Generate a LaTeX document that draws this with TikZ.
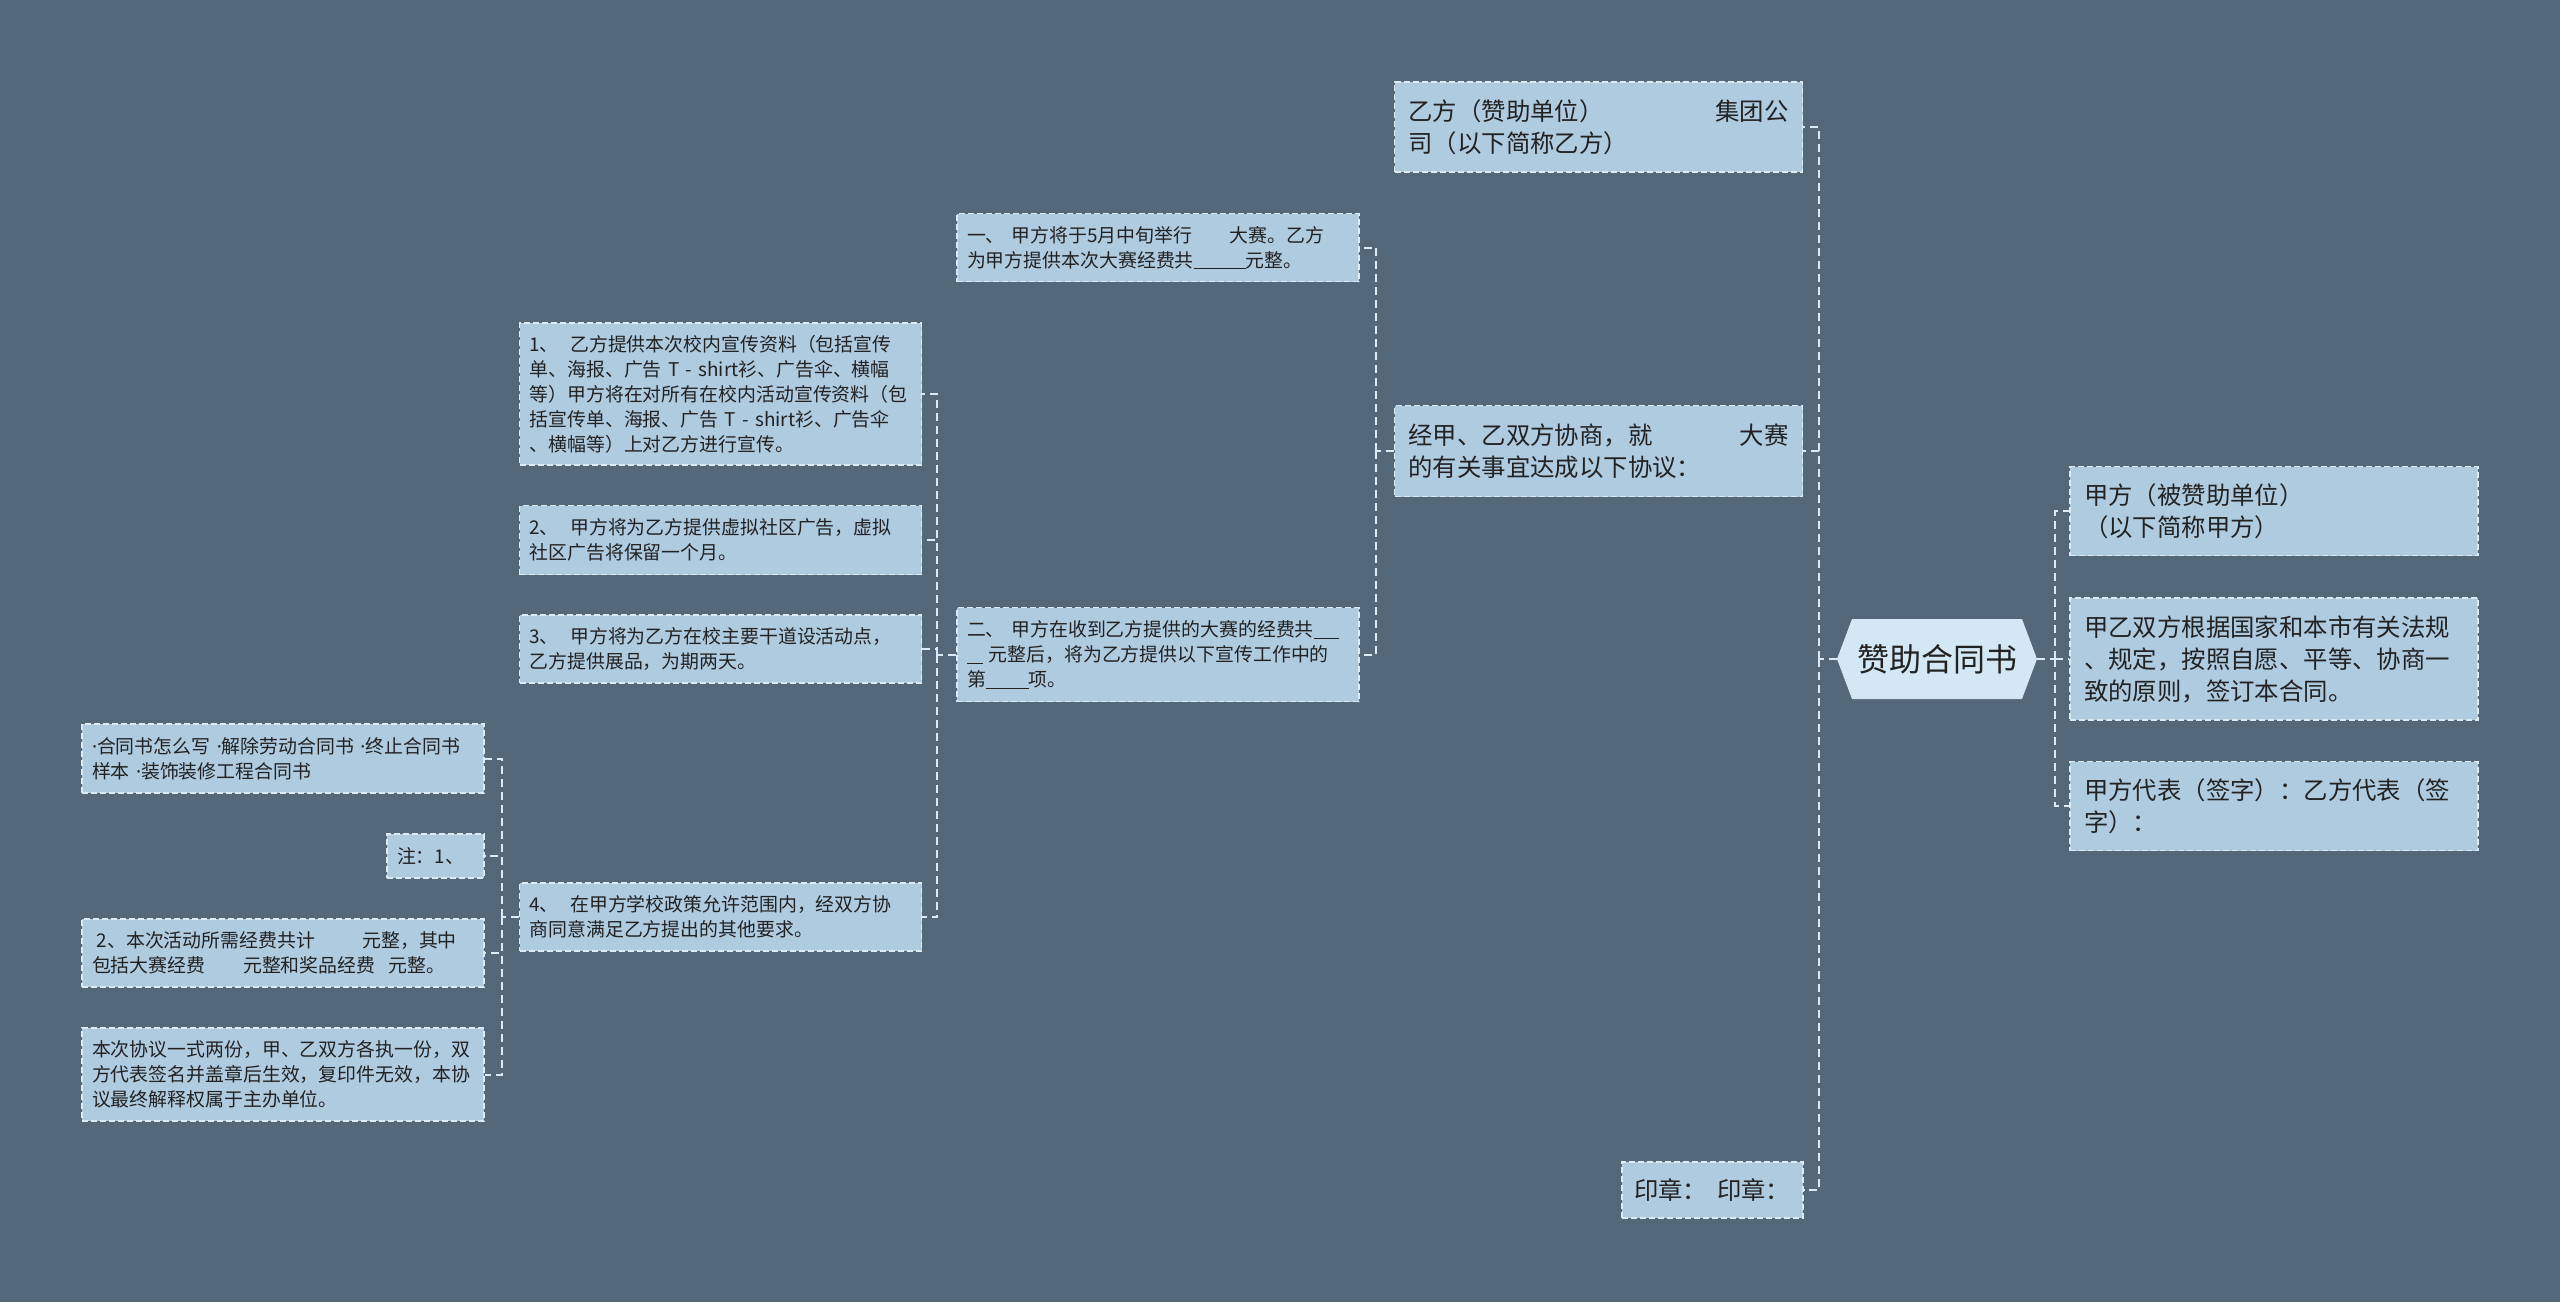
\documentclass[tikz,border=0pt]{standalone}
\usepackage{fontspec}
\setmainfont{Noto Sans CJK SC}
\newfontfamily\latinf{Noto Sans}
\definecolor{bg}{HTML}{536878}
\definecolor{boxfill}{HTML}{AFCBE0}
\definecolor{rootfill}{HTML}{D3E8F4}
\definecolor{linec}{HTML}{DCEAF4}
\definecolor{txt}{HTML}{222222}
\newcommand\myblank[1]{\rule[-1pt]{#1}{0.45pt}}
\newcommand\mdot{{\latinf ·}}
\begin{document}
\begin{tikzpicture}[x=0.5pt,y=-0.5pt,
  box/.style={draw=linec, dash pattern=on 3pt off 1.5pt, line width=0.6pt, fill=boxfill, text=txt, align=left, inner ysep=0pt, anchor=center},
  big/.style={box, font=\fontsize{12.2pt}{16pt}\selectfont, inner xsep=7pt, text width=190pt},
  small/.style={box, font=\fontsize{9.45pt}{12.5pt}\selectfont, inner xsep=5pt, text width=191pt},
  conn/.style={draw=linec, line width=1pt, dash pattern=on 4pt off 2.5pt},
]
\useasboundingbox (0,0) rectangle (2560,1302);
\fill[bg] (0,0) rectangle (2560,1302);

% root hexagon
\fill[rootfill] (1837,659) -- (1852,619) -- (2022,619) -- (2037,659) -- (2022,699) -- (1852,699) -- cycle;
\node[text=txt, font=\fontsize{16pt}{19pt}\selectfont, minimum width=100pt, minimum height=40pt, inner sep=0pt] (root) at (1937,659) {赞助合同书};

% right side
\node[big, minimum height=44.5pt] (r1) at (2274,511) {甲方（被赞助单位）\\（以下简称甲方）};
\node[big, minimum height=61pt] (r2) at (2274,659) {甲乙双方根据国家和本市有关法规\\、规定，按照自愿、平等、协商一\\致的原则，签订本合同。};
\node[big, minimum height=44.5pt] (r3) at (2274,806) {甲方代表（签字）：乙方代表（签\\字）：};

% left level 1
\node[big, minimum height=45pt] (a) at (1598.5,127) {乙方（赞助单位）\hfill 集团公\\司（以下简称乙方）};
\node[big, minimum height=45.5pt] (b) at (1598.5,451) {经甲、乙双方协商，就\hfill 大赛\\的有关事宜达成以下协议：};
\node[big, minimum height=28pt, inner xsep=6pt, text width=78.5pt] (c) at (1712.5,1190) {印章：\hspace{5pt}印章：};

% level 2
\node[small, minimum height=34pt] (d) at (1158,247.5) {一、\hspace{0.35em}甲方将于5月中旬举行\hspace{2em}大赛。乙方\\为甲方提供本次大赛经费共\myblank{26pt}元整。};
\node[small, minimum height=47pt] (e) at (1158,654.5) {二、\hspace{0.35em}甲方在收到乙方提供的大赛的经费共\myblank{12.5pt}\\\myblank{8pt}\hspace{0.3em}元整后，将为乙方提供以下宣传工作中的\\第\myblank{21.5pt}项。};

% level 3
\node[small, minimum height=71pt] (f) at (720.5,394) {1、\hspace{0.6em}乙方提供本次校内宣传资料（包括宣传\\单、海报、广告 T - shirt衫、广告伞、横幅\\等）甲方将在对所有在校内活动宣传资料（包\\括宣传单、海报、广告 T - shirt衫、广告伞\\、横幅等）上对乙方进行宣传。};
\node[small, minimum height=34.5pt] (g) at (720.5,540) {2、\hspace{0.6em}甲方将为乙方提供虚拟社区广告，虚拟\\社区广告将保留一个月。};
\node[small, minimum height=34pt] (h) at (720.5,649) {3、\hspace{0.6em}甲方将为乙方在校主要干道设活动点，\\乙方提供展品，为期两天。};
\node[small, minimum height=34pt] (i) at (720.5,917) {4、\hspace{0.6em}在甲方学校政策允许范围内，经双方协\\商同意满足乙方提出的其他要求。};

% level 4
\node[small, minimum height=34.5pt] (j) at (283,758.5) {\mdot 合同书怎么写~\mdot 解除劳动合同书~\mdot 终止合同书\\样本~\mdot 装饰装修工程合同书};
\node[small, minimum height=22pt, text width=38.5pt] (k) at (435.5,856) {注：1、};
\node[small, minimum height=34pt] (l) at (283,953) {\hspace*{0.25em}2、本次活动所需经费共计\hspace{2.5em}元整，其中\\包括大赛经费\hspace{2em}元整和奖品经费\hspace{0.7em}元整。};
\node[small, minimum height=46.5pt] (m) at (283,1074.5) {本次协议一式两份，甲、乙双方各执一份，双\\方代表签名并盖章后生效，复印件无效，本协\\议最终解释权属于主办单位。};

% connectors
\coordinate (jr) at (2055,659);
\draw[conn] (root.east) -- (jr);
\foreach \n in {r1,r2,r3} \draw[conn] (jr) |- (\n.west);

\coordinate (jl) at (1819,659);
\draw[conn] (root.west) -- (jl);
\foreach \n in {a,b,c} \draw[conn] (jl) |- (\n.east);

\coordinate (jb) at (1376,451);
\draw[conn] (b.west) -- (jb);
\foreach \n in {d,e} \draw[conn] (jb) |- (\n.east);

\coordinate (je) at (937,654.5);
\draw[conn] (e.west) -- (je);
\foreach \n in {f,g,h,i} \draw[conn] (je) |- (\n.east);

\coordinate (ji) at (502,917);
\draw[conn] (i.west) -- (ji);
\foreach \n in {j,k,l,m} \draw[conn] (ji) |- (\n.east);
\end{tikzpicture}
\end{document}
